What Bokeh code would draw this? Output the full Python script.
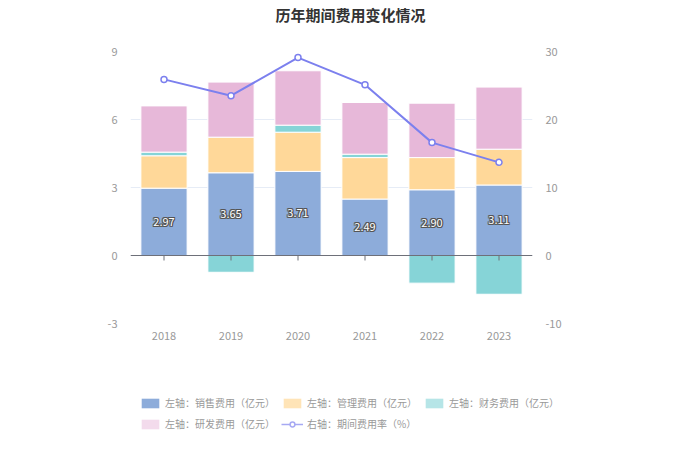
import numpy as np
from bokeh.plotting import figure
from bokeh.layouts import column, row
from bokeh.models import (ColumnDataSource, FactorRange, Range1d, LinearAxis,
                          FixedTicker, Legend, LegendItem, Span, Title,
                          PrintfTickFormatter)
from bokeh.embed import file_html
from bokeh.resources import INLINE
from bokeh.core.properties import value

years = ["2018", "2019", "2020", "2021", "2022", "2023"]
sales = [2.97, 3.65, 3.71, 2.49, 2.90, 3.11]
admin = [1.43, 1.57, 1.73, 1.83, 1.42, 1.58]
finance = [0.16, -0.74, 0.31, 0.15, -1.22, -1.71]
rnd = [2.04, 2.43, 2.40, 2.28, 2.40, 2.74]
rate = [25.9, 23.5, 29.1, 25.1, 16.6, 13.7]
left_ticks = [-3, 0, 3, 6, 9]
right_ticks = [-10, 0, 10, 20, 30]

FONT = "Noto Sans CJK SC"
C_SALES = "#8DACDA"
C_ADMIN = "#FFD899"
C_FIN = "#86D4D7"
C_RND = "#E7B8D9"
C_LINE = "#7C80EE"

s = np.array(sales)
a = np.array(admin)
f = np.array(finance)
r = np.array(rnd)
a_top = s + a
f_bot = np.where(f >= 0, a_top, 0.0)
f_top = np.where(f >= 0, a_top + f, f)
r_bot = a_top + np.maximum(f, 0)
r_top = r_bot + r

src = ColumnDataSource(dict(
    x=years, s_bot=np.zeros(len(years)), s_top=s, a_bot=s, a_top=a_top,
    f_bot=f_bot, f_top=f_top, r_bot=r_bot, r_top=r_top,
    lab_y=s / 2, lab=["%.2f" % v for v in sales], rate=rate,
    t0=np.zeros(len(years)), t1=np.full(len(years), -0.22),
))

p = figure(frame_width=402, frame_height=272,
           x_range=FactorRange(*years, range_padding=0),
           y_range=Range1d(-3, 9), output_backend="svg", toolbar_location=None,
           min_border_left=130, min_border_right=152, min_border_top=49,
           min_border_bottom=30)
p.extra_y_ranges = {"right": Range1d(-10, 30)}
p.outline_line_color = None

p.title.text = "历年期间费用变化情况"
p.title.align = "left"
p.title.offset = 145
p.title.standoff = 3
p.title.text_font = FONT
p.title.text_font_size = "15px"
p.title.text_font_style = "bold"
p.title.text_color = "#333333"
p.add_layout(Title(text=" ", text_font_size="21px", standoff=0), "above")

W = 0.69
p.vbar(x="x", bottom="s_bot", top="s_top", width=W, source=src,
       fill_color=C_SALES, line_color="white", line_width=1)
p.vbar(x="x", bottom="a_bot", top="a_top", width=W, source=src,
       fill_color=C_ADMIN, line_color="white", line_width=1)
p.vbar(x="x", bottom="f_bot", top="f_top", width=W, source=src,
       fill_color=C_FIN, line_color="white", line_width=1)
p.vbar(x="x", bottom="r_bot", top="r_top", width=W, source=src,
       fill_color=C_RND, line_color="white", line_width=1)

p.add_layout(Span(location=0, dimension="width", line_color="#6E7079", line_width=1))
p.segment(x0="x", x1="x", y0="t0", y1="t1", source=src, line_color="#6E7079", line_width=1)

for dx, dy in [(-1, 0), (1, 0), (0, -1), (0, 1), (-1, -1), (1, 1), (-1, 1), (1, -1)]:
    p.text(x="x", y="lab_y", text="lab", source=src, text_color="#555555",
           text_align="center", text_baseline="middle", text_font_size="11px",
           text_font=value(FONT), x_offset=dx, y_offset=dy)
p.text(x="x", y="lab_y", text="lab", source=src, text_color="white",
       text_align="center", text_baseline="middle", text_font_size="11px",
       text_font=value(FONT))

p.line(x="x", y="rate", source=src, y_range_name="right",
       line_color=C_LINE, line_width=2)
p.scatter(x="x", y="rate", source=src, y_range_name="right", size=6,
          fill_color="white", line_color=C_LINE, line_width=1.5)

# axes
ax = p.xaxis[0]
ax.axis_line_color = None
ax.major_tick_line_color = None
ax.minor_tick_line_color = None
ax.major_label_text_color = "#999999"
ax.major_label_text_font = FONT
ax.major_label_text_font_size = "11px"
ax.major_label_standoff = 2

ay = p.yaxis[0]
ay.ticker = FixedTicker(ticks=left_ticks)
ay.formatter = PrintfTickFormatter(format="%d")
ay.axis_line_color = None
ay.major_tick_line_color = None
ay.minor_tick_line_color = None
ay.major_label_text_color = "#999999"
ay.major_label_text_font = FONT
ay.major_label_text_font_size = "11px"
ay.major_label_standoff = 7

ry = LinearAxis(y_range_name="right", ticker=FixedTicker(ticks=right_ticks),
                formatter=PrintfTickFormatter(format="%d"))
ry.axis_line_color = None
ry.major_tick_line_color = None
ry.minor_tick_line_color = None
ry.major_label_text_color = "#999999"
ry.major_label_text_font = FONT
ry.major_label_text_font_size = "11px"
ry.major_label_standoff = 7
p.add_layout(ry, "right")

p.xgrid.grid_line_color = None
p.ygrid.ticker = FixedTicker(ticks=left_ticks)
p.ygrid.grid_line_color = "#E6ECF6"

# legend figure (separate, not frame-aligned)
lg = figure(width=684, height=100, x_range=Range1d(0, 1), y_range=Range1d(0, 1),
            output_backend="svg", toolbar_location=None, min_border=0,
            x_axis_location=None, y_axis_location=None)
lg.grid.visible = False
lg.outline_line_color = None
dummy = ColumnDataSource(dict(x=[5.0], b=[5.0], t=[6.0], y=[5.0]))
ls = lg.vbar(x="x", bottom="b", top="t", width=0.1, source=dummy, fill_color=C_SALES, line_color=None)
la = lg.vbar(x="x", bottom="b", top="t", width=0.1, source=dummy, fill_color=C_ADMIN, line_color=None, fill_alpha=0.7)
lf = lg.vbar(x="x", bottom="b", top="t", width=0.1, source=dummy, fill_color=C_FIN, line_color=None, fill_alpha=0.6)
lr = lg.vbar(x="x", bottom="b", top="t", width=0.1, source=dummy, fill_color=C_RND, line_color=None, fill_alpha=0.5)
ll = lg.line(x="x", y="y", source=dummy, line_color="#A7A9F3", line_width=1.5)
lc = lg.scatter(x="x", y="y", source=dummy, size=9, fill_color="white", line_color="#A7A9F3", line_width=1.5)

legend = Legend(items=[
    LegendItem(label="左轴：销售费用（亿元）", renderers=[ls]),
    LegendItem(label="左轴：管理费用（亿元）", renderers=[la]),
    LegendItem(label="左轴：财务费用（亿元）", renderers=[lf]),
    LegendItem(label="左轴：研发费用（亿元）", renderers=[lr]),
    LegendItem(label="右轴：期间费用率（%）", renderers=[ll, lc]),
], ncols=3, location=(139, 22), orientation="horizontal")
legend.label_text_font = FONT
legend.label_text_font_size = "10px"
legend.label_text_color = "#999999"
legend.glyph_width = 22
legend.glyph_height = 12
legend.border_line_color = None
legend.background_fill_alpha = 0
legend.margin = 0
legend.padding = 3
legend.spacing = 6
legend.label_standoff = 4
lg.add_layout(legend, "center")

layout = column(p, row(lg), spacing=0)
open("out.html", "w").write(file_html(layout, INLINE))
